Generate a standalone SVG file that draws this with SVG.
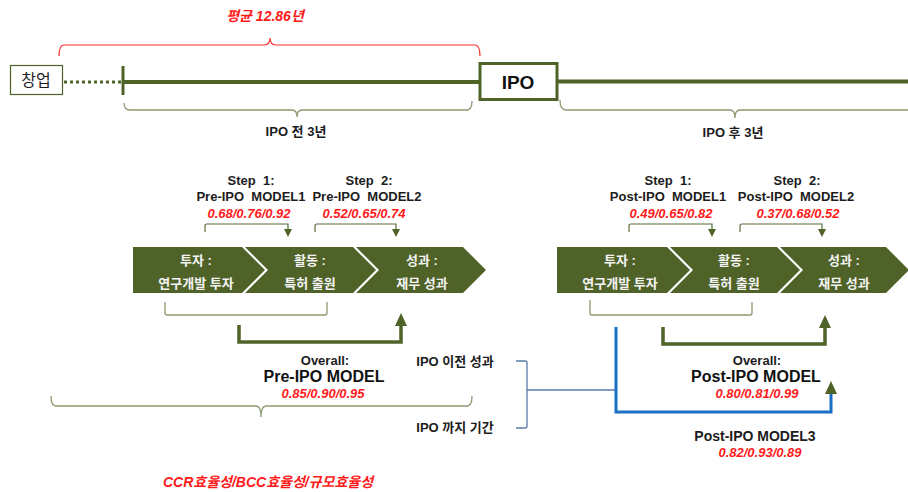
<svg xmlns="http://www.w3.org/2000/svg" width="908" height="492" viewBox="0 0 908 492">
<style>
text{font-family:"Liberation Sans","Noto Sans CJK KR",sans-serif}
.lbl{font-size:13px;font-weight:bold;fill:#1c1c1c;text-anchor:middle}
.val{font-size:13px;font-weight:bold;font-style:italic;fill:#ff1a1a;text-anchor:middle}
.chev{fill:#4f6228}
.ctx{font-size:13px;font-weight:bold;fill:#f4f4f4;text-anchor:middle}
.brk{fill:none;stroke:#8c9a70;stroke-width:1.3}
.big{fill:none;stroke:#4f6228;stroke-width:3.5}
.small{fill:none;stroke:#5a6b3a;stroke-width:1.2}
.tl{stroke:#4f6228;fill:none}
</style>
<defs>
<marker id="bigHead" viewBox="0 0 13 12" markerWidth="13" markerHeight="12" refX="2" refY="6" orient="auto" markerUnits="userSpaceOnUse">
<path d="M0,0 L13,6 L0,12 Z" fill="#4f6228"/>
</marker>
<marker id="smallHead" viewBox="0 0 8 8" markerWidth="8" markerHeight="8" refX="1" refY="4" orient="auto" markerUnits="userSpaceOnUse">
<path d="M0,0 L8,4 L0,8 Z" fill="#4f6228"/>
</marker>
</defs>
<rect width="908" height="492" fill="#ffffff"/>

<g id="timeline">
<text x="265" y="21" font-size="14" font-weight="bold" font-style="italic" fill="#ff1a1a" text-anchor="middle">평균 12.86년</text>
<path d="M59,56 Q59,45 64,45 L264,45 Q270,45 270,38 Q270,45 276,45 L475,45 Q480,45 480,56" fill="none" stroke="#ff2a2a" stroke-width="1.2"/>
<line class="tl" x1="64" y1="82" x2="121" y2="82" stroke-width="3" stroke-dasharray="3 3"/>
<line class="tl" x1="123" y1="66" x2="123" y2="95" stroke-width="3"/>
<line class="tl" x1="123" y1="82" x2="480" y2="82" stroke-width="4"/>
<line class="tl" x1="557" y1="81.5" x2="908" y2="81.5" stroke-width="4"/>
<path class="brk" d="M124,103 Q124,110 130,110 L292,110 Q297,110 297,117 Q297,110 302,110 L467,110 Q472,110 472,101"/>
<path class="brk" d="M560,100 Q560,110 566,110 L730,110 Q735,110 735,118 Q735,110 740,110 L908,110"/>
<text class="lbl" x="296" y="136" font-size="14">IPO 전 3년</text>
<text class="lbl" x="733" y="137" font-size="14">IPO 후 3년</text>
</g>

<g id="node-founding">
<rect x="10.5" y="65.5" width="52" height="29" fill="#ffffff" stroke="#4f6228" stroke-width="1.2"/>
<text x="36" y="86" font-size="16" fill="#1c1c1c" text-anchor="middle">창업</text>
</g>

<g id="node-ipo">
<rect x="480" y="63.5" width="77" height="36" fill="#ffffff" stroke="#4f6228" stroke-width="3"/>
<text x="518" y="89" font-size="19" font-weight="bold" fill="#111" text-anchor="middle">IPO</text>
</g>

<g id="node-pre-invest">
<path class="chev" d="M133,247 L242,247 L265,270 L242,293 L133,293 Z"/>
<text class="ctx" x="196" y="265">투자 :</text>
<text class="ctx" x="196" y="288">연구개발 투자</text>
</g>
<g id="node-pre-activity">
<path class="chev" d="M245,247 L353,247 L376,270 L353,293 L245,293 L268,270 Z"/>
<text class="ctx" x="310" y="265">활동 :</text>
<text class="ctx" x="310" y="288">특허 출원</text>
</g>
<g id="node-pre-result">
<path class="chev" d="M356,247 L463,247 L486,270 L463,293 L356,293 L379,270 Z"/>
<text class="ctx" x="422" y="265">성과 :</text>
<text class="ctx" x="422" y="288">재무 성과</text>
</g>

<g id="node-post-invest">
<path class="chev" d="M557,247 L667,247 L690,270 L667,293 L557,293 Z"/>
<text class="ctx" x="620" y="265">투자 :</text>
<text class="ctx" x="620" y="288">연구개발 투자</text>
</g>
<g id="node-post-activity">
<path class="chev" d="M670,247 L777,247 L800,270 L777,293 L670,293 L693,270 Z"/>
<text class="ctx" x="734" y="265">활동 :</text>
<text class="ctx" x="734" y="288">특허 출원</text>
</g>
<g id="node-post-result">
<path class="chev" d="M780,247 L886,247 L909,270 L886,293 L780,293 L803,270 Z"/>
<text class="ctx" x="844" y="265">성과 :</text>
<text class="ctx" x="844" y="288">재무 성과</text>
</g>

<g id="labels-pre">
<text class="lbl" x="251" y="185" xml:space="preserve">Step  1:</text>
<text class="lbl" x="251" y="201" xml:space="preserve">Pre-IPO  MODEL1</text>
<text class="val" x="249" y="218">0.68/0.76/0.92</text>
<text class="lbl" x="369" y="185" xml:space="preserve">Step  2:</text>
<text class="lbl" x="367" y="201" xml:space="preserve">Pre-IPO  MODEL2</text>
<text class="val" x="364" y="218">0.52/0.65/0.74</text>
<text class="lbl" x="325" y="365">Overall:</text>
<text x="324" y="382" font-size="16" font-weight="bold" fill="#111" text-anchor="middle">Pre-IPO MODEL</text>
<text class="val" x="323" y="398">0.85/0.90/0.95</text>
<text class="lbl" x="455" y="366">IPO 이전 성과</text>
<text class="lbl" x="455" y="432">IPO 까지 기간</text>
<text x="268" y="487" font-size="14" font-weight="bold" font-style="italic" fill="#ff1a1a" text-anchor="middle">CCR효율성/BCC효율성/규모효율성</text>
</g>

<g id="labels-post">
<text class="lbl" x="668" y="185" xml:space="preserve">Step  1:</text>
<text class="lbl" x="668" y="201" xml:space="preserve">Post-IPO  MODEL1</text>
<text class="val" x="671" y="218">0.49/0.65/0.82</text>
<text class="lbl" x="797" y="185" xml:space="preserve">Step  2:</text>
<text class="lbl" x="796" y="201" xml:space="preserve">Post-IPO  MODEL2</text>
<text class="val" x="798" y="218">0.37/0.68/0.52</text>
<text class="lbl" x="757" y="365">Overall:</text>
<text x="756" y="382" font-size="16" font-weight="bold" fill="#111" text-anchor="middle">Post-IPO MODEL</text>
<text class="val" x="757" y="398">0.80/0.81/0.99</text>
<text x="755" y="441" font-size="14" font-weight="bold" fill="#1c1c1c" text-anchor="middle">Post-IPO MODEL3</text>
<text class="val" x="760" y="457">0.82/0.93/0.89</text>
</g>

<g id="connectors">
<path class="small" d="M205,232 L205,226 Q205,224 207,224 L288,224 L288,230" marker-end="url(#smallHead)"/>
<path class="small" d="M315,232 L315,226 Q315,224 317,224 L396,224 L396,230" marker-end="url(#smallHead)"/>
<path class="small" d="M629,232 L629,226 Q629,224 631,224 L712,224 L712,230" marker-end="url(#smallHead)"/>
<path class="small" d="M740,232 L740,226 Q740,224 742,224 L822,224 L822,230" marker-end="url(#smallHead)"/>
<path class="brk" d="M165,302 L165,313 Q165,315 167,315 L325,315 Q327,315 327,313 L327,302"/>
<path class="brk" d="M590,300 L590,313 Q590,315 592,315 L750,315 Q752,315 752,313 L752,302"/>
<path class="big" d="M239,325 L239,342 L401,342 L401,324" marker-end="url(#bigHead)"/>
<path class="big" d="M663,327 L663,344 L825,344 L825,326" marker-end="url(#bigHead)"/>
<path class="brk" d="M51,396 Q51,406 56,406 L256,406 Q261,406 261,417 Q261,406 266,406 L467,406 Q472,406 472,396"/>
<path d="M516,361 L525,361 Q527,361 527,363 L527,426 Q527,428 525,428 L516,428" fill="none" stroke="#5a7aa8" stroke-width="1.3"/>
<line x1="527" y1="390" x2="616" y2="390" stroke="#5a7aa8" stroke-width="1.3"/>
<path d="M616,327 L616,412 L831,412 L831,392" fill="none" stroke="#1a6fc4" stroke-width="3" marker-end="url(#bigHead)"/>
</g>
</svg>
